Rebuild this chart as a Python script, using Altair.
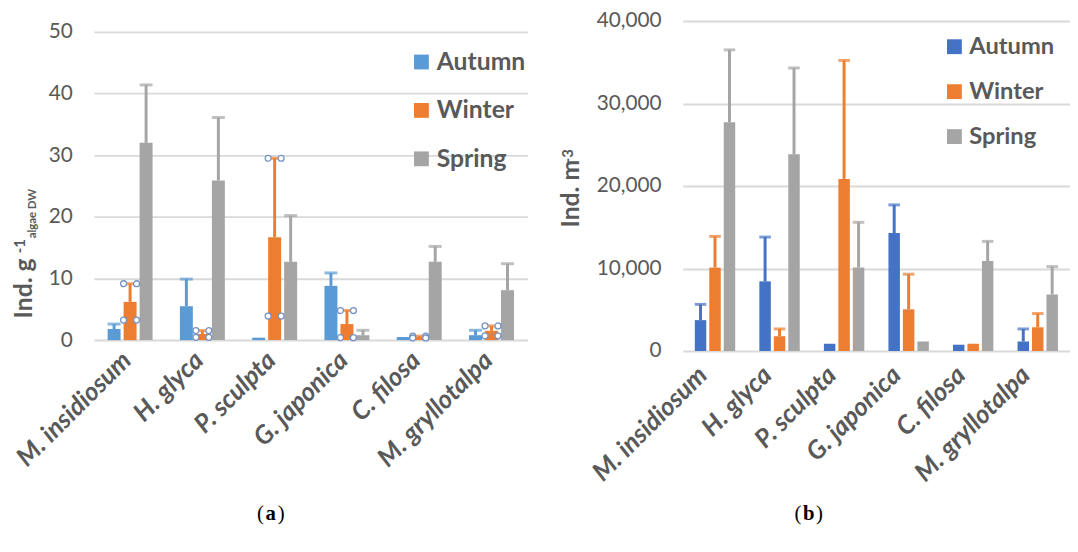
import altair as alt
import pandas as pd

species = ["M. insidiosum", "H. glyca", "P. sculpta", "G. japonica", "C. filosa", "M. gryllotalpa"]
seasons = ["Autumn", "Winter", "Spring"]

# Panel (a): Ind. g-1 algae DW
autumn_a = [1.8, 5.5, 0.4, 8.8, 0.5, 0.8]
autumn_a_err = [0.8, 4.4, 0.0, 2.1, 0.0, 0.8]
winter_a = [6.2, 1.0, 16.7, 2.6, 0.5, 1.5]
winter_a_err = [2.95, 0.55, 12.8, 2.2, 0.15, 0.8]
spring_a = [32.0, 25.9, 12.7, 0.8, 12.7, 8.1]
spring_a_err = [9.4, 10.2, 7.5, 0.8, 2.5, 4.3]

# Panel (b): Ind. m-3
autumn_b = [3740, 8440, 875, 14290, 760, 1150]
autumn_b_err = [1910, 5370, 0, 3420, 0, 1520]
winter_b = [10110, 1790, 20860, 5050, 875, 2870]
winter_b_err = [3780, 880, 14360, 4260, 0, 1670]
spring_b = [27740, 23840, 10110, 1150, 10900, 6850]
spring_b_err = [8760, 10470, 5490, 0, 2390, 3380]

ticks_a = [0, 10, 20, 30, 40, 50]
ticks_b = [0, 10000, 20000, 30000, 40000]

colors_a = ["#5B9BD5", "#ED7D31", "#A5A5A5"]
colors_b = ["#4472C4", "#ED7D31", "#A5A5A5"]

TXT = "#595959"
FONT = "Lato"
SERIF = "Liberation Serif"


def make_df(vals, errs):
    rows = []
    for season, v_list, e_list in zip(seasons, vals, errs):
        for sp, v, e in zip(species, v_list, e_list):
            rows.append(dict(species=sp, season=season, value=v, err=e,
                             upper=v + e, lower=max(v - e, 0)))
    return pd.DataFrame(rows)


df_a = make_df([autumn_a, winter_a, spring_a], [autumn_a_err, winter_a_err, spring_a_err])
df_b = make_df([autumn_b, winter_b, spring_b], [autumn_b_err, winter_b_err, spring_b_err])


def text_layer(txt, x, y, size, weight="bold", angle=0, align="left", font=FONT,
               baseline="alphabetic"):
    return alt.Chart(pd.DataFrame({"t": [txt]})).mark_text(
        font=font, fontSize=size, fontWeight=weight, angle=angle, align=align,
        baseline=baseline, color=TXT if font == FONT else "#000000"
    ).encode(text="t:N", x=alt.value(x), y=alt.value(y))


def panel(df, colors, width, band_range, height, y_range, ymax, ticks, pi_x, pi_off, bw,
          legend_x, legend_y, row_pad, leg_font, lab_pad, lab_off, title_layers, caption,
          circles=False):
    xscale_kw = dict(paddingInner=pi_x, paddingOuter=pi_x / 2)
    if band_range is not None:
        xscale_kw["range"] = [0, band_range]
    xdef = alt.X("species:N", sort=species, title=None,
                 scale=alt.Scale(**xscale_kw),
                 axis=alt.Axis(labelAngle=-45, labelAlign="right", labelBaseline="middle",
                               labelFont=FONT, labelFontSize=26, labelFontStyle="italic",
                               labelFontWeight="bold", labelColor=TXT, labelPadding=lab_pad,
                               labelOffset=lab_off, ticks=False, domain=False, grid=False))
    xoff = alt.XOffset("season:N", sort=seasons,
                       scale=alt.Scale(paddingInner=pi_off, paddingOuter=0))
    cscale = alt.Scale(domain=seasons, range=colors)
    yscale = alt.Scale(domain=[0, ymax], range=y_range, nice=False)
    yaxis = alt.Axis(values=ticks, format=",.0f", grid=True, gridColor="#d9d9d9",
                     gridWidth=2, domain=False, ticks=False, labelFont=FONT,
                     labelFontSize=21, labelColor=TXT, labelPadding=22)

    bars = alt.Chart(df).mark_bar().encode(
        x=xdef, xOffset=xoff,
        y=alt.Y("value:Q", scale=yscale, title=None, axis=yaxis),
        color=alt.Color("season:N", sort=seasons, scale=cscale,
                        legend=alt.Legend(orient="none", legendX=legend_x, legendY=legend_y,
                                          title=None, symbolType="square", symbolSize=225,
                                          symbolStrokeWidth=0, labelFont=FONT,
                                          labelFontWeight="bold", labelFontSize=leg_font,
                                          labelColor=TXT, labelOffset=3, rowPadding=row_pad,
                                          padding=0)),
    )
    errdf = df[df["err"] > 0]
    rules = alt.Chart(errdf).mark_rule(strokeWidth=3).encode(
        x=xdef, xOffset=xoff,
        y=alt.Y("value:Q", scale=yscale, title=None, axis=yaxis),
        y2="upper:Q",
        color=alt.Color("season:N", sort=seasons, scale=cscale, legend=None),
    )
    caps = alt.Chart(errdf).mark_tick(orient="horizontal", thickness=3, size=bw).encode(
        x=xdef, xOffset=xoff,
        y=alt.Y("upper:Q", scale=yscale, title=None, axis=yaxis),
        color=alt.Color("season:N", sort=seasons, scale=cscale, legend=None),
    )
    layers = [bars, rules, caps]
    if circles:
        r = 3.0 / (bw / 2)
        a1, a2 = 1 - r, 1 + r
        path = (f"M {-a1},0 A {r},{r} 0 1,0 {-a2},0 A {r},{r} 0 1,0 {-a1},0 Z "
                f"M {a2},0 A {r},{r} 0 1,0 {a1},0 A {r},{r} 0 1,0 {a2},0 Z")
        wdf = df[df["season"] == "Winter"]
        for fld in ["upper", "lower"]:
            layers.append(alt.Chart(wdf).mark_point(
                shape=path, size=bw * bw, filled=False, fill="#ffffff", fillOpacity=1,
                stroke="#7393c4", strokeWidth=1.3, opacity=1
            ).encode(x=xdef, xOffset=xoff,
                     y=alt.Y(f"{fld}:Q", scale=yscale, title=None, axis=yaxis)))
    layers += title_layers + caption
    return alt.layer(*layers).properties(width=width, height=height)


# Axis titles with super/subscripts (positions relative to each plot origin)
title_a = [
    text_layer("Ind. g", -63, 301, 25, angle=270),
    text_layer("-1", -70, 235, 15, angle=270),
    text_layer("algae DW", -59, 220, 11.5, angle=270),
]
title_b = [
    text_layer("Ind. m", -105.5, 209, 25, angle=270),
    text_layer("-3", -111.5, 144, 15, angle=270),
]

cap_a = [
    text_layer("(", 172, 505, 21, weight="normal", align="right", font=SERIF),
    text_layer("a", 179, 505, 21, weight="bold", align="center", font=SERIF),
    text_layer(")", 186, 505, 21, weight="normal", align="left", font=SERIF),
]
cap_b = [
    text_layer("(", 120, 505, 21, weight="normal", align="right", font=SERIF),
    text_layer("b", 127.5, 505, 21, weight="bold", align="center", font=SERIF),
    text_layer(")", 135, 505, 21, weight="normal", align="left", font=SERIF),
]

left = panel(df_a, colors_a, 439, None, 323, [323, 11], 50, ticks_a, 0.378, 0.19, 13.1,
             319, 29, 23, 25, 16, -3, title_a, cap_a, circles=True)
right = panel(df_b, colors_b, 380, 392, 334, [334, 0], 40000, ticks_b, 0.374, 0.207, 11.7,
              263, 14, 21.5, 24, 20, -12, title_b, cap_b)

chart = alt.hconcat(left, right, spacing=31).resolve_scale(
    color="independent", x="independent", y="independent", xOffset="independent"
).properties(
    padding={"left": 3, "top": -1, "right": 0, "bottom": 0}
).configure(background="#ffffff").configure_view(strokeWidth=0, stroke=None)

chart.save("out.html", embed_options={"renderer": "svg", "actions": False})
